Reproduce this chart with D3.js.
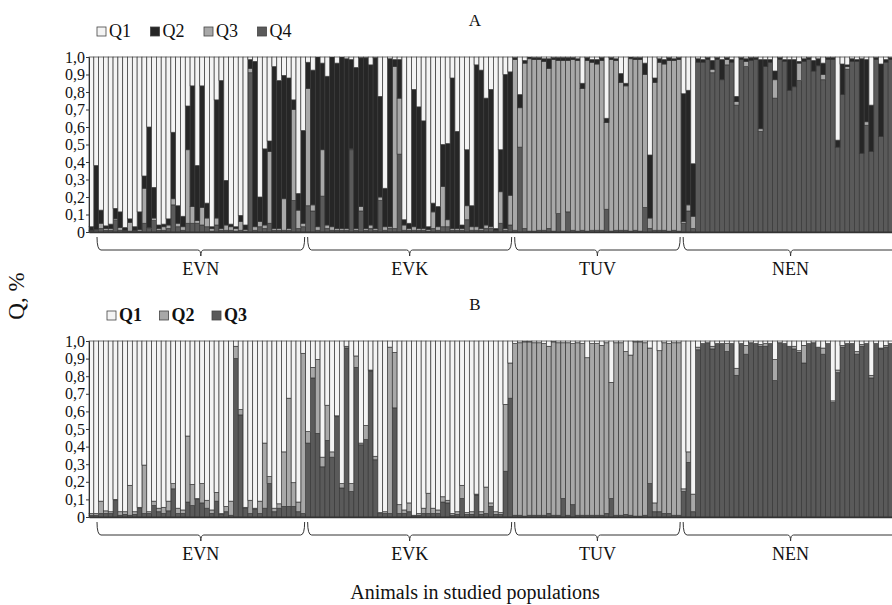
<!DOCTYPE html>
<html>
<head>
<meta charset="utf-8">
<script src="https://cdn.jsdelivr.net/npm/d3@7"></script>
<style>
  body { margin: 0; background: #fff; }
  text { font-family: "Liberation Serif", "Times New Roman", serif; fill: #111; }
</style>
</head>
<body>
<svg id="chart" width="892" height="605"></svg>
<script>
// populations along the x axis and how many animals each has
const populations = ['EVN', 'EVK', 'TUV', 'NEN'];
const popSizes = [45, 43, 35, 44];
const tickValues = [0, 0.1, 0.2, 0.3, 0.4, 0.5, 0.6, 0.7, 0.8, 0.9, 1.0];

// panel A, K = 4
const aQ1 = [
  .97,.62,.875,.965,.955,.865,.885,.975,.925,.97, .885,.68,.40,.745,.96,.955,.925,.43,.85,.91,
  .28,.165,.62,.165,.835,.97,.245,.135,.705,.955, .97,.905,.96,.015,.025,.80,.525,.48,.055,.135,
  .105,.12,.245,.78,.42,
  .03,.075,0,.035,.11,0,.035,0,.01,.015, .06,.005,.005,.045,.005,.225,.75,.01,.015,.015,
  .93,.95,.185,.285,.365,.97,.835,.855,.50,.495, .12,.425,.96,.53,.85,.045,.075,.235,.185,.98,
  .53,.10,.085,
  .005,.215,.02,0,.005,.005,.01,.01,.005,.005, .005,.005,.005,.01,.15,.005,.015,.015,.005,.35,
  .005,.01,.095,.15,0,.005,.005,.035,.56,.12, .01,.015,.005,.01,.005,
  .21,.19,.61, .01,.015,.005,.02,.005,.015,.005, .015,.225,.005,.01,.005,.005,.015,.015,.015,.08,
  .005,.015,.015,.015,.025,.01,.005,.02,.01,.035, .005,.005,.475,.04,.045,.01,.015,.01,.015,.275,
  .005,.04,.015,.005
];
const aQ2 = [
  .02,.365,.075,.015,.025,.06,.09,.015,.02,.02, .10,.07,.575,.175,.02,.015,.035,.38,.10,.06,
  .25,.69,.315,.695,.085,.01,.675,.845,.255,.015, .01,.035,.025,.05,.945,.14,.435,.06,.925,.845,
  .705,.86,.055,.095,.53,
  .15,.77,.97,.495,.85,.97,.945,.98,.97,.51, .92,.85,.975,.915,.975,.575,.22,.96,.04,.22,
  .03,.03,.785,.695,.615,.015,.05,.115,.24,.435, .86,.555,.02,.32,.12,.925,.905,.725,.785,.01,
  .24,.88,.705,
  .01,.075,.015,.01,.01,.01,.015,.055,.01,.015, .015,.015,.01,.01,.03,.015,.015,.025,.015,.025,
  .01,.01,.05,.015,.01,.01,.01,.065,.36,.025, .02,.025,.015,.01,.01,
  .73,.655,.30, .02,.015,.01,.05,.01,.115,.01, .015,.03,.01,.015,.015,.01,.395,.04,.015,.05,
  .01,.01,.175,.155,.01,.015,.01,.06,.04,.065, .01,.01,.04,.175,.01,.015,.01,.54,.355,.265,
  .01,.415,.015,.01
];
const aQ3 = [
  .005,.005,.03,.01,.01,.01,.015,.005,.05,.005, .01,.20,.005,.015,.01,.02,.02,.035,.02,.02,
  .42,.095,.015,.10,.05,.015,.04,.01,.03,.02, .015,.05,.01,.025,.02,.03,.02,.41,.01,.01,
  .18,.01,.52,.105,.02,
  .67,.035,.02,.265,.02,.02,.01,.01,.01,.005, .01,.025,.01,.02,.01,.02,.02,.01,.925,.32,
  .03,.01,.02,.01,.01,.01,.095,.02,.23,.04, .01,.01,.01,.08,.02,.02,.01,.02,.01,.005,
  .18,.01,.17,
  .975,.225,.945,.985,.98,.975,.965,.915,.98,.875, .975,.865,.975,.975,.81,.975,.96,.95,.97,.495,
  .98,.97,.845,.825,.985,.975,.98,.76,.06,.845, .96,.95,.975,.97,.98,
  .01,.035,.07, 0,0,0,.02,0,0,.03, 0,.02,0,.03,0,0,.015,0,0,.105,
  0,0,0,0,.10,0,0,0,0,.03, 0,0,0,0,.015,0,0,0,.02,0,
  0,0,0,0
];
const aQ4 = [
  .005,.01,.02,.01,.01,.065,.01,.005,.005,.005, .005,.05,.02,.065,.01,.01,.02,.155,.03,.01,
  .05,.05,.05,.04,.03,.005,.04,.01,.01,.01, .005,.01,.005,.91,.01,.03,.02,.05,.01,.01,
  .01,.01,.18,.02,.03,
  .15,.12,.01,.205,.02,.01,.01,.01,.01,.47, .01,.12,.01,.02,.01,.18,.01,.02,.02,.445,
  .01,.01,.01,.01,.01,.005,.02,.01,.03,.03, .01,.01,.01,.07,.01,.01,.01,.02,.02,.005,
  .05,.01,.04,
  .01,.485,.02,.005,.005,.01,.01,.02,.005,.105, .005,.115,.01,.005,.01,.005,.01,.01,.01,.13,
  .005,.01,.01,.01,.005,.01,.005,.14,.02,.01, .01,.01,.005,.01,.005,
  .05,.12,.02, .97,.97,.985,.91,.985,.87,.955, .97,.725,.985,.945,.98,.985,.575,.945,.97,.765,
  .985,.975,.81,.83,.865,.975,.985,.92,.95,.87, .985,.985,.485,.785,.93,.975,.975,.45,.61,.46,
  .985,.545,.97,.985
];

// panel B, K = 3
const bQ1 = [
  .98,.98,.91,.965,.97,.90,.97,.97,.82,.97, .945,.705,.97,.91,.95,.945,.91,.81,.95,.96,
  .54,.815,.895,.81,.905,.96,.86,.98,.94,.91, .03,.39,.945,.905,.95,.91,.58,.77,.95,.925,
  .63,.325,.805,.915,.07,
  .515,.15,.105,.66,.365,.63,.425,.81,.03,.81, .085,.58,.48,.165,.655,.975,.97,.035,.065,.93,
  .96,.92,.99,.98,.95,.865,.95,.96,.885,.905, .98,.97,.82,.975,.97,.87,.97,.83,.92,.97,
  .975,.36,.125,
  .015,.01,.005,.005,.01,.01,.015,.03,.005,.01, .01,.01,.015,.01,.015,.095,.015,.015,.025,.01,
  .235,.01,.01,.06,.08,.005,.005,.01,.04,.92, .055,.01,.015,.01,.01,
  .84,.63,.87, .035,.015,.01,.03,.015,.015,.015, .015,.155,.015,.025,.01,.015,.02,.015,.015,.105,
  .01,.015,.03,.03,.055,.025,.015,.01,.035,.04, .015,.34,.165,.025,.015,.015,.06,.02,.015,.195,
  .015,.04,.025,.015
];
const bQ2 = [
  .01,.01,.07,.015,.01,.005,.02,.015,.17,.015, .005,.275,.01,.025,.02,.035,.055,.03,.03,.02,
  .375,.12,.005,.11,.045,.02,.05,.005,.03,.08, .07,.03,.005,.075,.005,.07,.37,.04,.02,.025,
  .31,.615,.135,.055,.91,
  .065,.06,.42,.055,.20,.03,.005,.025,.01,.045, .065,.01,.08,.005,.02,.005,.01,.945,.315,.05,
  .02,.05,.005,.01,.03,.115,.03,.02,.03,.015, .01,.015,.075,.01,.015,.005,.015,.15,.02,.015,
  .01,.38,.20,
  .975,.98,.99,.985,.98,.98,.975,.95,.985,.98, .885,.98,.915,.98,.975,.895,.975,.975,.965,.97,
  .66,.98,.98,.925,.91,.99,.99,.98,.77,.05, .915,.97,.965,.98,.98,
  .015,.06,.10, .015,0,0,.015,0,0,.045, 0,.04,0,.05,0,0,.01,.015,0,.12,
  0,0,0,.015,.01,.10,0,0,0,.035, 0,.01,.015,.01,0,0,.015,.01,0,.015,
  0,.005,.01,0
];
const bQ3 = [
  .01,.01,.02,.02,.02,.095,.01,.015,.01,.015, .05,.02,.02,.065,.03,.02,.035,.16,.02,.02,
  .085,.065,.10,.08,.05,.02,.09,.015,.03,.01, .90,.58,.05,.02,.045,.02,.05,.19,.03,.05,
  .06,.06,.06,.03,.02,
  .42,.79,.475,.285,.435,.34,.57,.165,.96,.145, .85,.41,.44,.83,.325,.02,.02,.02,.62,.02,
  .02,.03,.005,.01,.02,.02,.02,.02,.085,.08, .01,.015,.105,.015,.015,.125,.015,.02,.06,.015,
  .015,.26,.675,
  .01,.01,.005,.01,.01,.01,.01,.02,.01,.01, .105,.01,.07,.01,.01,.01,.01,.01,.01,.02,
  .105,.01,.01,.015,.01,.005,.005,.01,.19,.03, .03,.02,.02,.01,.01,
  .145,.31,.03, .95,.985,.99,.955,.985,.985,.94, .985,.805,.985,.925,.99,.985,.97,.97,.985,.775,
  .99,.985,.97,.955,.935,.875,.985,.99,.965,.925, .985,.65,.82,.965,.985,.985,.925,.97,.985,.79,
  .985,.955,.965,.985
];

const WHITE = '#f4f4f4', BLACK = '#262626', LIGHT = '#a8a8a8', DARK = '#5a5a5a';

const svg = d3.select('#chart');
const N = aQ1.length;
const x = d3.scaleBand().domain(d3.range(N)).range([89, 893]).padding(0);

const fmt = d => d === 0 ? '0' : d3.format('.1f')(d).replace('.', ',');

function drawPanel(opt) {
  const y = d3.scaleLinear().domain([0, 1]).range([opt.bottom, opt.top]);
  const rows = d3.range(N).map(i => {
    const r = { i: i };
    opt.series.forEach(s => { r[s.name] = s.values[i]; });
    return r;
  });
  // bottom cluster first
  const layers = d3.stack().keys(opt.series.map(s => s.name))(rows);

  const g = svg.append('g');
  g.selectAll('g.layer')
    .data(layers)
    .join('g')
    .attr('class', 'layer')
    .attr('fill', (d, k) => opt.series[k].color)
    .selectAll('rect')
    .data(d => d)
    .join('rect')
    .attr('x', d => x(d.data.i))
    .attr('width', x.bandwidth())
    .attr('y', d => y(d[1]))
    .attr('height', d => Math.max(0, y(d[0]) - y(d[1])))
    .attr('stroke', '#383838')
    .attr('stroke-width', 0.7);

  // baseline
  g.append('g')
    .attr('transform', `translate(0,${opt.bottom})`)
    .call(d3.axisBottom(x).tickSize(0).tickFormat(''))
    .call(a => a.select('.domain').attr('stroke', '#333').attr('stroke-width', 1.4));

  const ax = g.append('g')
    .attr('transform', `translate(${x.range()[0]},0)`)
    .attr('font-family', null)
    .call(d3.axisLeft(y).tickValues(tickValues).tickSize(3).tickPadding(1).tickFormat(fmt));
  ax.select('.domain').attr('stroke', '#333');
  ax.selectAll('.tick line').attr('stroke', '#333');
  ax.selectAll('.tick text')
    .style('font-family', '"Liberation Serif", serif')
    .style('font-size', '16px')
    .attr('fill', '#111');

  // title
  svg.append('text')
    .attr('x', 475).attr('y', opt.top - 31)
    .attr('text-anchor', 'middle')
    .style('font-size', '17px')
    .text(opt.title);

  // legend, Q1 first
  const legend = svg.append('g')
    .attr('transform', `translate(${opt.legendX},${opt.top - 21})`);
  const items = opt.series.slice().reverse();
  items.forEach((s, k) => {
    const it = legend.append('g').attr('transform', `translate(${k * opt.legendStep},0)`);
    it.append('rect')
      .attr('x', 0).attr('y', -9).attr('width', 9).attr('height', 9)
      .attr('fill', s.color).attr('stroke', '#444').attr('stroke-width', 0.8);
    it.append('text')
      .attr('x', 12).attr('y', 0.5)
      .style('font-size', '18px')
      .style('font-weight', opt.boldLegend ? 'bold' : 'normal')
      .text(s.name);
  });

  // population brackets
  const bTop = opt.bottom + 5, bLine = opt.bottom + 18;
  let start = 0;
  populations.forEach((p, k) => {
    const x0 = x(start) + (k === 0 ? 8 : 2);
    const x1 = (start + popSizes[k] < N ? x(start + popSizes[k]) : x.range()[1] + 6) - 1;
    const xm = (x0 + x1) / 2;
    const path = d3.path();
    path.moveTo(x0, bTop);
    path.quadraticCurveTo(x0, bLine, x0 + 4, bLine);
    path.lineTo(xm - 3, bLine);
    path.quadraticCurveTo(xm, bLine, xm, bLine + 6);
    path.quadraticCurveTo(xm, bLine, xm + 3, bLine);
    path.lineTo(x1 - 4, bLine);
    path.quadraticCurveTo(x1, bLine, x1, bTop);
    g.append('path')
      .attr('d', path.toString())
      .attr('fill', 'none')
      .attr('stroke', '#333')
      .attr('stroke-width', 1);
    g.append('text')
      .attr('x', xm).attr('y', bLine + 25)
      .attr('text-anchor', 'middle')
      .style('font-size', '18px')
      .text(p);
    start += popSizes[k];
  });
}

drawPanel({
  title: 'A', top: 57, bottom: 232, legendX: 97, legendStep: 53.5, boldLegend: false,
  series: [
    { name: 'Q4', values: aQ4, color: DARK },
    { name: 'Q3', values: aQ3, color: LIGHT },
    { name: 'Q2', values: aQ2, color: BLACK },
    { name: 'Q1', values: aQ1, color: WHITE }
  ]
});

drawPanel({
  title: 'B', top: 341, bottom: 517, legendX: 107, legendStep: 52.5, boldLegend: true,
  series: [
    { name: 'Q3', values: bQ3, color: DARK },
    { name: 'Q2', values: bQ2, color: LIGHT },
    { name: 'Q1', values: bQ1, color: WHITE }
  ]
});

svg.append('text')
  .attr('transform', 'translate(24,296) rotate(-90)')
  .attr('text-anchor', 'middle')
  .style('font-size', '23px')
  .text('Q, %');

svg.append('text')
  .attr('x', 475).attr('y', 599)
  .attr('text-anchor', 'middle')
  .style('font-size', '20px')
  .text('Animals in studied populations');
</script>
</body>
</html>
